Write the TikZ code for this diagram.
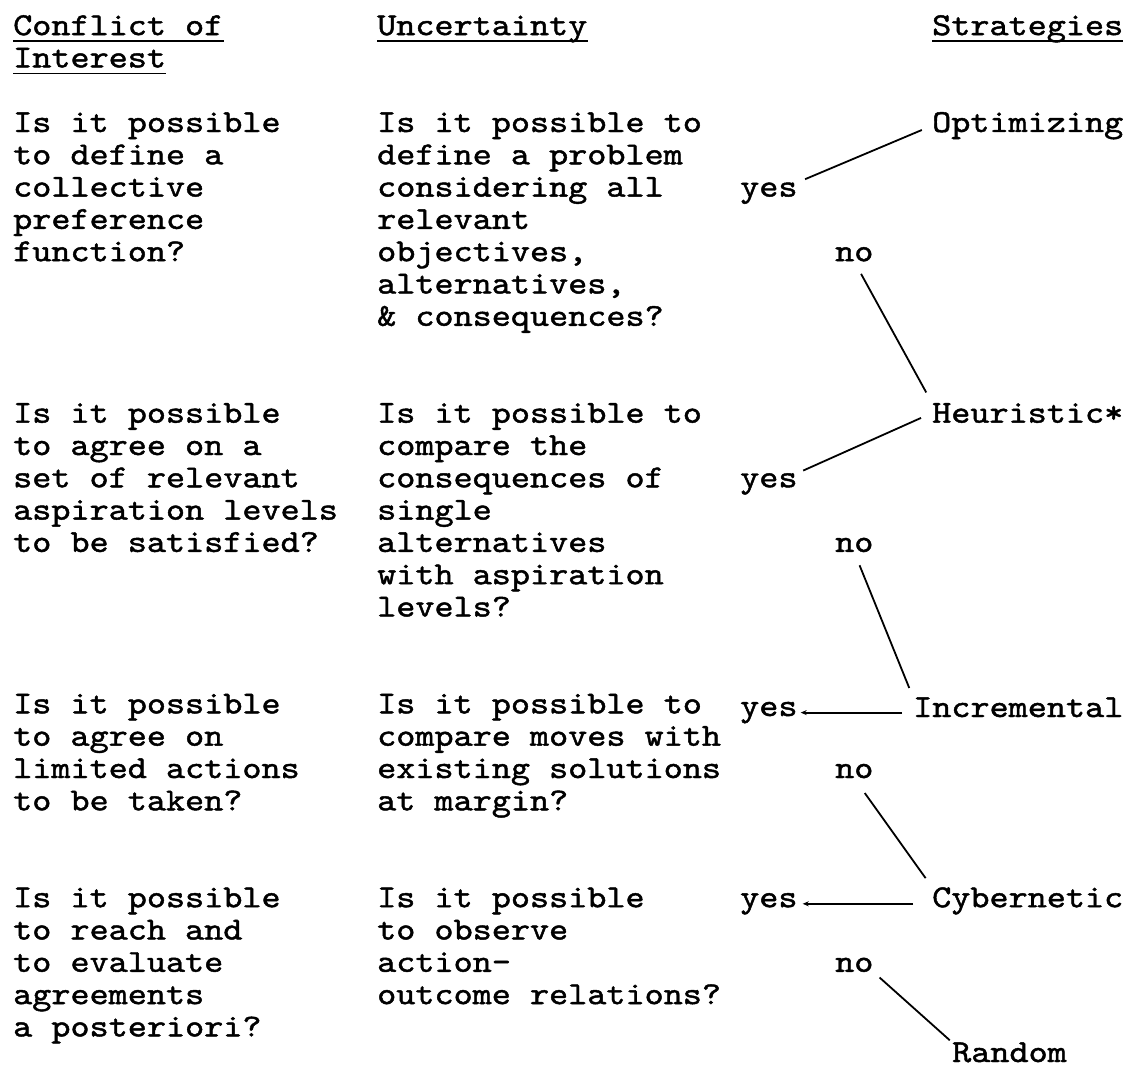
\documentclass[tikz,border=0pt]{standalone}
\usepackage{fontspec}
\newfontfamily\typefont{lmmono10-regular.otf}[FakeStretch=1.137,FakeBold=1.4]
\usetikzlibrary{positioning, arrows.meta}

\begin{document}
\begin{tikzpicture}[
    x=1pt, y=-1pt,
    every node/.style={font=\typefont\fontsize{32}{32.3}\selectfont, inner sep=0pt},
    txt/.style={anchor=base west, align=left},
    uline/.style={line width=1.5pt},
    link/.style={line width=1.8pt},
    pick/.style={line width=1.8pt, -{Stealth[length=6pt,width=5pt]}}
]
    \useasboundingbox (0,0) rectangle (1125,1070);

    % column heads
    \node[txt] (hconf) at (13,35.1) {Conflict of};
    \node[txt] (hint) at (13,67.4) {Interest};
    \node[txt] (hunc) at (377,35.1) {Uncertainty};
    \node[txt] (hstr) at (932,35.1) {Strategies};
    \foreach \h in {hconf,hint,hunc,hstr}
        \draw[uline] ([yshift=-6pt]\h.base west) -- ([yshift=-6pt]\h.base east);

    % conflict of interest questions (placed at the baseline of their last line)
    \node[txt] (c1) at (13,261.2) {Is it possible\\to define a\\collective\\preference\\function?};
    \node[txt] (c2) at (13,551.9) {Is it possible\\to agree on a\\set of relevant\\aspiration levels\\to be satisfied?};
    \node[txt] (c3) at (13,810.3) {Is it possible\\to agree on\\limited actions\\to be taken?};
    \node[txt] (c4) at (13,1036.4) {Is it possible\\to reach and\\to evaluate\\agreements\\a posteriori?};

    % uncertainty questions
    \node[txt] (u1) at (377,325.8) {Is it possible to\\define a problem\\considering all\\relevant\\objectives,\\alternatives,\\\& consequences?};
    \node[txt] (u2) at (377,616.5) {Is it possible to\\compare the\\consequences of\\single\\alternatives\\with aspiration\\levels?};
    \node[txt] (u3) at (377,810.3) {Is it possible to\\compare moves with\\existing solutions\\at margin?};
    \node[txt] (u4) at (377,1004.1) {Is it possible\\to observe\\action-\\outcome relations?};

    % answers
    \node[txt] (yes1) at (740,196.6) {yes};
    \node[txt] (no1) at (835,261.2) {no};
    \node[txt] (yes2) at (740,487.3) {yes};
    \node[txt] (no2) at (835,551.9) {no};
    \node[txt] (yes3) at (740,716) {yes};
    \node[txt] (no3) at (835,778) {no};
    \node[txt] (yes4) at (740,907.2) {yes};
    \node[txt] (no4) at (835,971.8) {no};

    % strategies
    \node[txt] (optim) at (932,132) {Optimizing};
    \node[txt] (heur) at (932,422.7) {Heuristic*};
    \node[txt] (incr) at (913,717) {Incremental};
    \node[txt] (cyber) at (932,907.2) {Cybernetic};
    \node[txt] (rand) at (952,1062) {Random};

    \draw[link, shorten <=8pt, shorten >=11pt] (yes1.north east) -- (optim.west);
    \draw[link, shorten <=14pt, shorten >=12pt] (no1.south) -- (heur.north west);
    \draw[link, shorten <=6pt, shorten >=12pt] (yes2.north east) -- (heur.west);
    \draw[link, shorten <=14pt, shorten >=10pt] (no2.south) -- (incr.north west);
    \draw[pick, shorten <=11pt, shorten >=3pt] (incr.west |- yes3.east) -- (yes3.east);
    \draw[link, shorten <=18pt, shorten >=11pt] (no3.south) -- (cyber.north west);
    \draw[pick, shorten <=19pt, shorten >=5pt] (cyber.west |- yes4.east) -- (yes4.east);
    \draw[link, shorten <=8pt, shorten >=3pt] (no4.south east) -- (rand.north west);
\end{tikzpicture}
\end{document}
